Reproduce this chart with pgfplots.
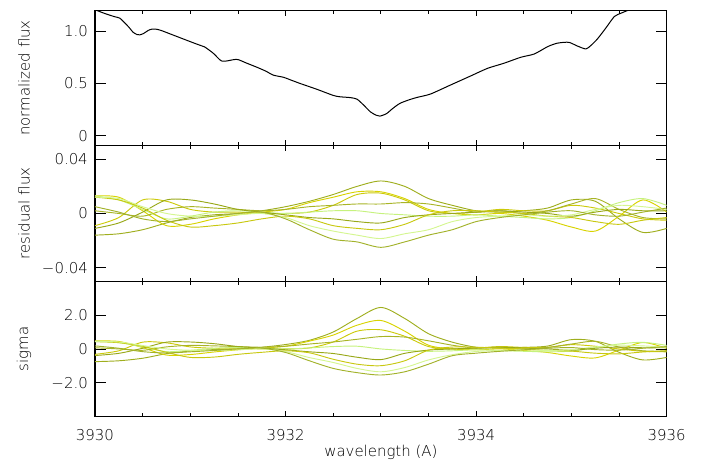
\documentclass[border=0pt]{standalone}
\usepackage{fontspec}
\setmainfont{DejaVu Sans ExtraLight}
\usepackage{pgfplots}
\usepackage{pgfplotstable}
\pgfplotsset{compat=1.18}

\definecolor{cA}{HTML}{9FAE1E}
\definecolor{cB}{HTML}{D8D300}
\definecolor{cC}{HTML}{CCCA0A}
\definecolor{cD}{HTML}{A8B426}
\definecolor{cE}{HTML}{C6F27E}
\definecolor{cF}{HTML}{98A818}
\definecolor{cG}{HTML}{C8C810}
\definecolor{cH}{HTML}{D4F690}
\definecolor{cI}{HTML}{A2B22A}

\pgfplotstableread{
wl      flux
3930.00 1.205
3930.10 1.170
3930.20 1.140
3930.26 1.125
3930.30 1.090
3930.35 1.044
3930.40 0.990
3930.44 0.968
3930.47 0.965
3930.51 0.978
3930.56 1.008
3930.60 1.020
3930.65 1.018
3930.70 1.005
3930.80 0.970
3930.90 0.935
3931.00 0.900
3931.10 0.866
3931.15 0.850
3931.24 0.790
3931.30 0.735
3931.33 0.715
3931.38 0.715
3931.45 0.727
3931.50 0.729
3931.59 0.695
3931.70 0.655
3931.80 0.615
3931.87 0.580
3931.98 0.559
3932.05 0.535
3932.15 0.501
3932.33 0.444
3932.50 0.386
3932.57 0.373
3932.68 0.365
3932.75 0.350
3932.82 0.293
3932.89 0.229
3932.95 0.197
3932.99 0.188
3933.06 0.212
3933.12 0.258
3933.20 0.310
3933.30 0.345
3933.38 0.367
3933.52 0.399
3933.73 0.485
3933.94 0.571
3934.12 0.645
3934.29 0.693
3934.47 0.751
3934.61 0.782
3934.75 0.852
3934.85 0.885
3934.97 0.894
3935.06 0.859
3935.15 0.830
3935.20 0.860
3935.27 0.923
3935.36 1.029
3935.45 1.140
3935.52 1.172
3935.59 1.198
3935.70 1.240
3936.00 1.340
}\spec

\pgfplotstableread{
wl      L1      L2      L3      L4      L5      L6      L7      L8      L9
3930.00 -0.016  0.013  -0.009   0.002   0.013  -0.011   0.012   0.012   0.005
3930.25 -0.015  0.012  -0.003   0.000   0.010  -0.007   0.010   0.011   0.001
3930.50 -0.012  0.002   0.010  -0.002   0.003   0.001   0.004   0.005  -0.004
3930.75 -0.007 -0.009   0.009   0.003  -0.004   0.010  -0.005   0.000  -0.006
3931.00 -0.003 -0.008   0.003   0.005  -0.002   0.010  -0.010  -0.002  -0.004
3931.25 -0.001 -0.004   0.001   0.004   0.001   0.007  -0.009  -0.002  -0.002
3931.50  0.000 -0.001   0.001   0.003   0.002   0.003  -0.007  -0.001   0.000
3931.75  0.002  0.001   0.000   0.002   0.001   0.001  -0.004   0.000   0.001
3932.00  0.005  0.003   0.000   0.003   0.000  -0.001  -0.002  -0.003  -0.004
3932.25  0.009  0.008   0.001   0.005   0.001  -0.003  -0.004  -0.009  -0.012
3932.50  0.014  0.012   0.006   0.006   0.002  -0.004  -0.009  -0.013  -0.019
3932.75  0.020  0.016   0.014   0.007   0.002  -0.006  -0.011  -0.016  -0.021
3933.00  0.024  0.016   0.015   0.007   0.000  -0.007  -0.012  -0.0185 -0.025
3933.25  0.020  0.011   0.010   0.008  -0.001  -0.003  -0.008  -0.015  -0.021
3933.50  0.011  0.003   0.002   0.007  -0.002  -0.001  -0.001  -0.012  -0.016
3933.75  0.006  0.000   0.000   0.004  -0.002   0.000   0.002  -0.006  -0.012
3934.00  0.002 -0.001   0.001   0.001  -0.001   0.001   0.002  -0.003  -0.006
3934.25  0.001  0.000   0.003   0.002  -0.002   0.002   0.001  -0.002  -0.003
3934.50  0.002 -0.002   0.002   0.000  -0.003   0.001   0.000  -0.001  -0.001
3934.75  0.004 -0.005   0.002   0.002  -0.004   0.000  -0.002  -0.002   0.001
3935.00  0.010 -0.010   0.006   0.007  -0.003  -0.002  -0.003  -0.001   0.002
3935.25  0.009 -0.013   0.004   0.011   0.002   0.001  -0.006   0.003  -0.001
3935.50 -0.004 -0.002   0.000   0.003   0.008   0.003  -0.008   0.006  -0.002
3935.75 -0.014  0.010  -0.004  -0.003   0.011   0.002  -0.005   0.005   0.001
3936.00 -0.011  0.001  -0.005  -0.004   0.006   0.002  -0.003   0.003   0.004
}\resid

\pgfplotstableread{
wl      L1     L2     L3     L4     L5     L6     L7     L8     L9
3930.00 -0.75  0.47  -0.32   0.07   0.47  -0.39   0.43   0.43   0.18
3930.25 -0.70  0.44  -0.11   0.00   0.37  -0.26   0.37   0.41   0.04
3930.50 -0.55  0.08   0.40  -0.08   0.12   0.04   0.16   0.20  -0.16
3930.75 -0.28 -0.36   0.36   0.12  -0.16   0.40  -0.20   0.00  -0.24
3931.00 -0.12 -0.33   0.12   0.21  -0.08   0.41  -0.50  -0.08  -0.17
3931.25 -0.04 -0.18   0.04   0.18   0.04   0.31  -0.48  -0.09  -0.09
3931.50  0.00 -0.05   0.05   0.14   0.09   0.14  -0.32  -0.05   0.00
3931.75  0.10  0.05   0.00   0.10   0.05   0.05  -0.20   0.00   0.05
3932.00  0.26  0.16   0.00   0.16   0.00  -0.05  -0.11  -0.16  -0.21
3932.25  0.51  0.46   0.06   0.29   0.06  -0.17  -0.23  -0.51  -0.70
3932.50  1.00  0.82   0.41   0.41   0.14  -0.27  -0.61  -0.80  -1.15
3932.75  1.80  1.40   1.05   0.57   0.16  -0.49  -0.90  -1.15  -1.40
3933.00  2.45  1.68   1.13   0.73   0.00  -0.63  -0.99  -1.35  -1.54
3933.25  1.80  1.05   0.75   0.70  -0.09  -0.26  -0.70  -1.10  -1.35
3933.50  0.90  0.22   0.14   0.48  -0.14  -0.07  -0.07  -0.65  -0.90
3933.75  0.40  0.00   0.00   0.22  -0.11   0.00   0.11  -0.34  -0.40
3934.00  0.10 -0.05   0.05   0.05  -0.05   0.05   0.10  -0.15  -0.25
3934.25  0.05  0.00   0.14   0.10  -0.10   0.10   0.05  -0.10  -0.14
3934.50  0.09 -0.09   0.09   0.00  -0.14   0.05   0.00  -0.05  -0.05
3934.75  0.17 -0.21   0.09   0.09  -0.17   0.00  -0.09  -0.09   0.04
3935.00  0.55 -0.42   0.25   0.29  -0.13  -0.08  -0.13  -0.04   0.08
3935.25  0.45 -0.53   0.16   0.45   0.08   0.04  -0.25   0.12  -0.04
3935.50 -0.20 -0.07   0.00   0.11   0.29   0.11  -0.29   0.22  -0.07
3935.75 -0.65  0.38  -0.14  -0.11   0.39   0.07  -0.18   0.18   0.04
3936.00 -0.50  0.03  -0.17  -0.14   0.21   0.07  -0.10   0.10   0.14
}\sig

\pgfplotsset{
  panel/.style={
    scale only axis, width=428.8pt, height=101.6pt,
    xmin=3930, xmax=3936,
    xtick={3930,3932,3934,3936},
    minor x tick num=3,
    scaled y ticks=false, scaled x ticks=false,
    tick align=inside,
    axis line style={line width=0.9pt},
    xtick style={/pgfplots/major tick length=4pt,/pgfplots/minor tick length=2.5pt,line width=0.6pt,black},
    ytick style={/pgfplots/major tick length=8pt,line width=0.6pt,black},
    every axis y label/.style={at={(rel axis cs:-0.124,0.5)},anchor=center,rotate=90},
    yticklabel style={xshift=-1.5pt},
    xticklabel style={yshift=-5.5pt},
  },
  rl/.style={line width=0.7pt, smooth, tension=0.5},
}

\begin{document}
\fontsize{11.2}{13}\selectfont
\begin{tikzpicture}
\path[use as bounding box] (0,0) rectangle (531pt,348pt);

% top panel
\begin{axis}[panel, at={(71.25pt,238.7pt)}, anchor=south west,
  ymin=-0.095, ymax=1.2, ytick={0,0.5,1}, yticklabels={0,0.5,1.0},
  xticklabels={}, ylabel={normalized flux}]
\addplot[black, line width=0.75pt, smooth, tension=0.4] table[x=wl,y=flux]{\spec};
\end{axis}

% middle panel
\begin{axis}[panel, at={(71.25pt,137.1pt)}, anchor=south west,
  ymin=-0.05, ymax=0.05, ytick={-0.04,0,0.04}, yticklabels={−0.04,0,0.04},
  xticklabels={}, ylabel={residual flux}]
\addplot[rl, cA] table[x=wl,y=L1]{\resid};
\addplot[rl, cB] table[x=wl,y=L2]{\resid};
\addplot[rl, cC] table[x=wl,y=L3]{\resid};
\addplot[rl, cD] table[x=wl,y=L4]{\resid};
\addplot[rl, cE] table[x=wl,y=L5]{\resid};
\addplot[rl, cF] table[x=wl,y=L6]{\resid};
\addplot[rl, cG] table[x=wl,y=L7]{\resid};
\addplot[rl, cH] table[x=wl,y=L8]{\resid};
\addplot[rl, cI] table[x=wl,y=L9]{\resid};
\end{axis}

% bottom panel
\begin{axis}[panel, at={(71.25pt,35.5pt)}, anchor=south west,
  ymin=-4, ymax=4, ytick={-2,0,2}, yticklabels={−2.0,0,2.0},
  xticklabels={3930,3932,3934,3936},
  ylabel={sigma},
  xlabel={wavelength (A)},
  every axis x label/.style={at={(rel axis cs:0.5,0)},yshift=-26.5pt,anchor=center}]
\addplot[rl, cA] table[x=wl,y=L1]{\sig};
\addplot[rl, cB] table[x=wl,y=L2]{\sig};
\addplot[rl, cC] table[x=wl,y=L3]{\sig};
\addplot[rl, cD] table[x=wl,y=L4]{\sig};
\addplot[rl, cE] table[x=wl,y=L5]{\sig};
\addplot[rl, cF] table[x=wl,y=L6]{\sig};
\addplot[rl, cG] table[x=wl,y=L7]{\sig};
\addplot[rl, cH] table[x=wl,y=L8]{\sig};
\addplot[rl, cI] table[x=wl,y=L9]{\sig};
\end{axis}
\end{tikzpicture}
\end{document}
